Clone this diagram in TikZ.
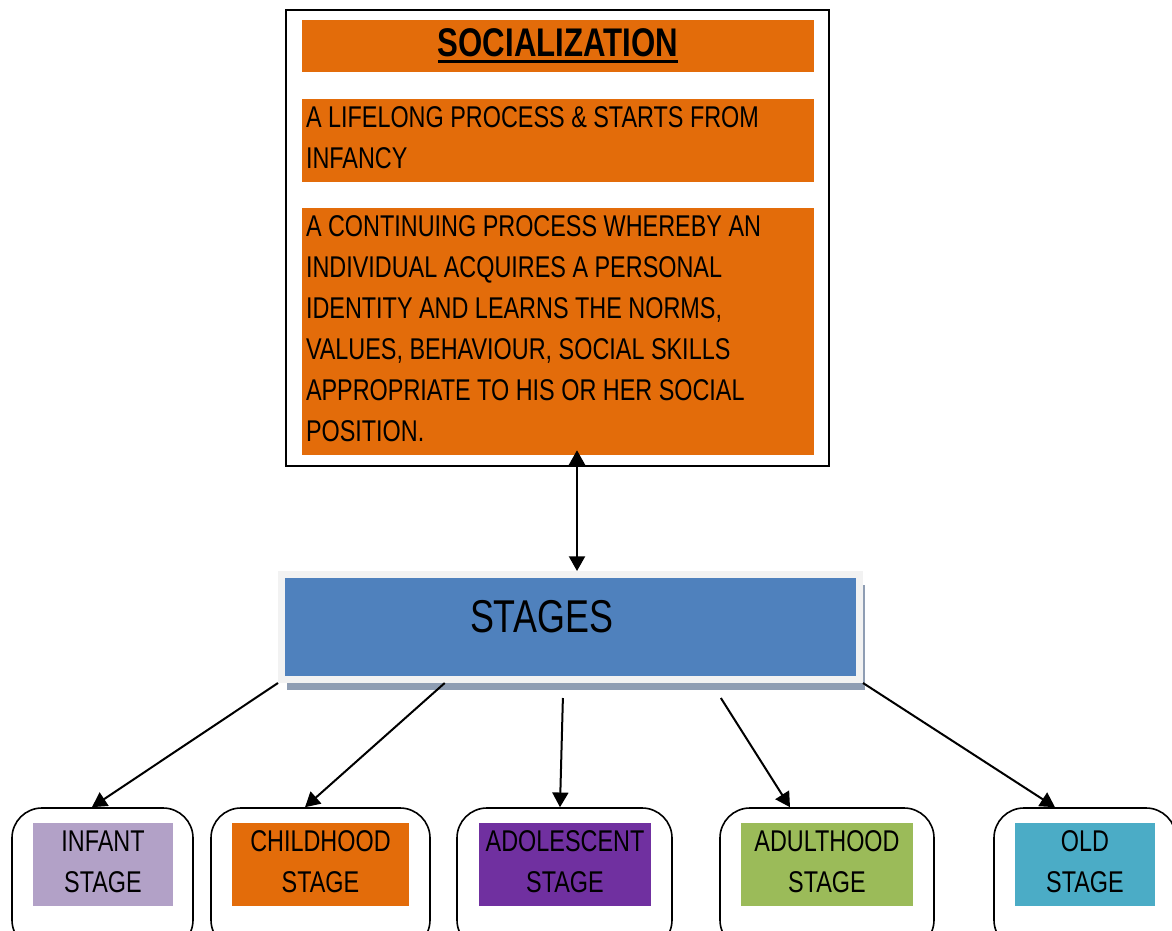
\documentclass[tikz,border=0pt]{standalone}
\usepackage{fontspec}
\setmainfont{Liberation Sans}[FakeStretch=0.78]
\usetikzlibrary{arrows.meta,shadows,calc}

\newcommand{\socul}[1]{\leavevmode\vtop{\hbox{#1}\kern2pt\hrule height 2.4pt}}
\newcommand{\liftup}{\par\kern4.5pt\hrule height 0pt width 0pt}

\definecolor{socorange}{HTML}{E36C0A}
\definecolor{stageblue}{HTML}{4F81BD}
\definecolor{stageframe}{HTML}{F2F2F2}
\definecolor{stageshadow}{HTML}{8E9DB3}
\definecolor{infantcol}{HTML}{B2A1C7}
\definecolor{adolcol}{HTML}{7030A0}
\definecolor{adultcol}{HTML}{9BBB59}
\definecolor{oldcol}{HTML}{4BACC6}

\tikzset{
    bar/.style={fill=socorange, inner xsep=3pt, inner ysep=0pt, text width=378pt,
        align=flush left, font=\fontsize{22.5}{30.75}\selectfont},
    card/.style={draw, line width=1.2pt, rounded corners=22.5pt, minimum height=106.5pt, inner sep=0pt},
    tag/.style={text width=#1, minimum height=62.25pt, inner sep=0pt, align=flush center,
        font=\fontsize{22.5}{30.75}\selectfont},
    arr/.style={-{Triangle[length=11pt,width=12pt]}, line width=1.5pt},
}

\begin{document}
\begin{tikzpicture}[x=0.75pt, y=-0.75pt]
    \useasboundingbox (0,0) rectangle (1172,931);
    \clip (0,0) rectangle (1172,931);

    % top block
    \node [draw, line width=1.5pt, minimum width=407.25pt, minimum height=342pt, inner sep=0pt] (outer) at (557.5,238) {};
    \node [fill=socorange, minimum width=384pt, minimum height=39pt, inner sep=0pt,
        font=\fontsize{30}{32}\selectfont] (title) at (558,46)
        {\socul{\textbf{SOCIALIZATION}}};
    \node [bar, minimum height=62.25pt] (life) at (558,140.5)
        {A LIFELONG PROCESS \& STARTS FROM\\ INFANCY\liftup};
    \node [bar, minimum height=185.25pt] (desc) at (558,331.5)
        {A CONTINUING PROCESS WHEREBY AN\\ INDIVIDUAL ACQUIRES A PERSONAL\\ IDENTITY AND LEARNS THE NORMS,\\ VALUES, BEHAVIOUR, SOCIAL SKILLS\\ APPROPRIATE TO HIS OR HER SOCIAL\\ POSITION.\liftup};

    % stages
    \node [fill=stageblue, draw=stageframe, line width=5.25pt, minimum width=433.5pt, minimum height=78.75pt,
        inner sep=0pt, drop shadow={shadow xshift=4.1pt, shadow yshift=-7.9pt, fill=stageshadow, opacity=1},
        font=\fontsize{34.5}{40}\selectfont] (stages) at (570.5,627)
        {\raisebox{-3.8pt}[0pt][0pt]{\makebox[0pt]{STAGES\hspace*{43.5pt}}}};

    \coordinate (up) at ($(desc.south)+(19,-5)$);
    \draw [arr, {Triangle[length=11pt,width=12pt]}-{Triangle[length=11pt,width=12pt]}] (up) -- (up |- stages.north);

    % stage cards
    \node [card, minimum width=135.75pt] (infantbox) at (102.5,879) {};
    \node [card, minimum width=164.25pt] (childbox) at (320.5,879) {};
    \node [card, minimum width=161.25pt] (adolbox) at (564.5,879) {};
    \node [card, minimum width=160.5pt] (adultbox) at (827,879) {};
    \node [card, minimum width=136.5pt] (oldbox) at (1085,879) {};

    \node [tag=105pt, fill=infantcol] (infant) at (103,864.5) {INFANT\\ STAGE\liftup};
    \node [tag=132.75pt, fill=socorange] (child) at (320.5,864.5) {CHILDHOOD\\ STAGE\liftup};
    \node [tag=129pt, fill=adolcol] (adol) at (565,864.5) {ADOLESCENT\\ STAGE\liftup};
    \node [tag=129pt, fill=adultcol] (adult) at (827,864.5) {ADULTHOOD\\ STAGE\liftup};
    \node [tag=105pt, fill=oldcol] (old) at (1085,864.5) {OLD\\ STAGE\liftup};

    \coordinate (s2) at ($(stages.south west)!0.285!(stages.south east)$);
    \coordinate (s3) at ($(stages.south west)!0.487!(stages.south east)+(0,15)$);
    \coordinate (s4) at ($(stages.south west)!0.757!(stages.south east)+(0,15)$);

    \draw [arr] (stages.south west) -- ([xshift=-7.9pt]infantbox.north);
    \draw [arr] (s2) -- ([xshift=-11.6pt]childbox.north);
    \draw [arr] (s3) -- ([xshift=-3.4pt]adolbox.north);
    \draw [arr] (s4) -- ([xshift=-27.75pt]adultbox.north);
    \draw [arr] (stages.south east) -- ([xshift=-22.5pt]oldbox.north);
\end{tikzpicture}
\end{document}
